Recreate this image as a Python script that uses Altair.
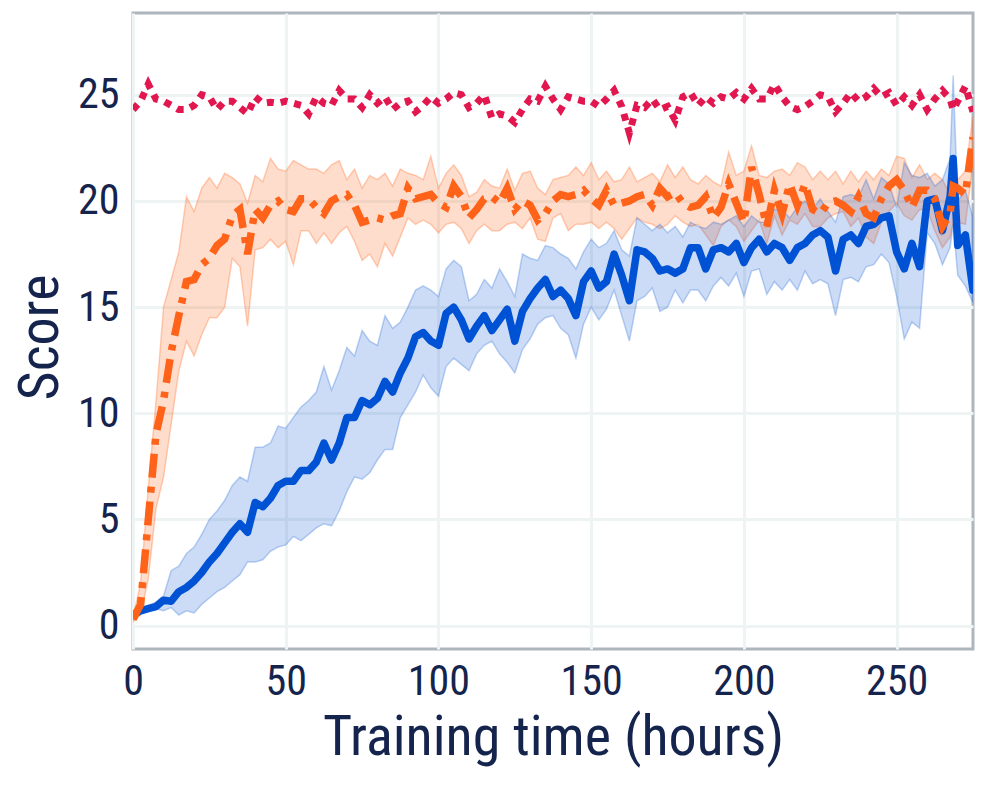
import altair as alt
import pandas as pd

HOURS = [0, 2.5, 5, 7.5, 10, 12.5, 15, 17.5, 20, 22.5,
         25, 27.5, 30, 32.5, 35, 37.5, 40, 42.5, 45, 47.5,
         50, 52.5, 55, 57.5, 60, 62.5, 65, 67.5, 70, 72.5,
         75, 77.5, 80, 82.5, 85, 87.5, 90, 92.5, 95, 97.5,
         100, 102.5, 105, 107.5, 110, 112.5, 115, 117.5, 120, 122.5,
         125, 127.5, 130, 132.5, 135, 137.5, 140, 142.5, 145, 147.5,
         150, 152.5, 155, 157.5, 160, 162.5, 165, 167.5, 170, 172.5,
         175, 177.5, 180, 182.5, 185, 187.5, 190, 192.5, 195, 197.5,
         200, 202.5, 205, 207.5, 210, 212.5, 215, 217.5, 220, 222.5,
         225, 227.5, 230, 232.5, 235, 237.5, 240, 242.5, 245, 247.5,
         250, 252.5, 255, 257.5, 260, 262.5, 265, 267.5, 268.5, 270, 272.5, 275]

ORANGE_MEAN = [0.3, 1.0, 5.0, 9.0, 10.6, 12.9, 14.6, 16.2, 16.3, 17.0,
               17.3, 17.9, 18.2, 19.3, 19.6, 17.5, 19.6, 19.2, 19.8, 20.0,
               19.6, 19.5, 20.1, 20.1, 19.7, 19.4, 20.0, 20.2, 20.3, 19.8,
               19.0, 19.1, 19.2, 19.1, 19.3, 19.4, 20.6, 20.1, 20.2, 20.3,
               19.9, 19.7, 20.7, 20.2, 19.2, 19.6, 20.1, 20.2, 19.9, 20.6,
               19.6, 20.0, 19.8, 19.1, 19.4, 20.0, 20.3, 20.2, 20.3, 20.5,
               20.1, 19.8, 20.5, 19.8, 19.9, 20.0, 20.2, 20.3, 19.8, 20.6,
               20.2, 20.4, 19.9, 19.7, 19.8, 20.2, 19.2, 19.7, 20.8, 19.9,
               19.0, 21.6, 20.3, 18.8, 20.5, 19.4, 20.8, 19.8, 20.8, 19.6,
               19.4, 19.9, 20.0, 19.8, 19.5, 20.2, 19.4, 19.2, 20.1, 20.7,
               21.0, 20.5, 19.7, 20.5, 20.5, 20.1, 18.8, 19.4, 20.7, 20.6, 20.3, 23.0]
ORANGE_LO = [0.2, 0.5, 2.2, 5.5, 7.0, 9.5, 12.0, 13.4, 12.7, 13.7,
             14.5, 14.5, 15.0, 17.3, 16.9, 14.1, 17.7, 17.8, 18.2, 17.8,
             18.1, 17.0, 18.6, 18.6, 18.0, 18.5, 18.0, 18.5, 18.8, 18.1,
             17.2, 17.5, 16.9, 18.0, 17.4, 18.3, 19.2, 18.9, 19.1, 18.9,
             18.5, 18.9, 19.0, 18.7, 18.0, 18.6, 18.9, 18.6, 18.6, 18.9,
             19.0, 18.7, 19.2, 18.2, 18.1, 19.2, 19.4, 18.6, 18.9, 18.9,
             19.0, 18.7, 19.0, 18.7, 18.2, 18.7, 19.2, 19.0, 18.9, 18.7,
             18.9, 19.3, 19.0, 18.8, 18.9, 18.4, 17.9, 18.8, 19.1, 18.8,
             18.1, 18.6, 19.1, 18.0, 19.3, 18.4, 19.1, 18.9, 19.4, 18.8,
             18.8, 19.2, 19.4, 19.5, 18.8, 19.2, 18.3, 18.0, 19.0, 19.5,
             19.9, 19.3, 19.1, 19.6, 19.6, 18.6, 17.8, 18.3, 19.0, 19.0, 18.9, 21.8]
ORANGE_HI = [0.4, 2.0, 6.5, 10.5, 15.0, 16.3, 17.6, 20.2, 19.5, 20.6,
             21.1, 20.6, 21.3, 21.1, 20.8, 19.9, 21.2, 20.9, 22.0, 21.5,
             21.4, 21.9, 21.7, 21.5, 21.5, 21.3, 21.7, 21.9, 21.0, 21.5,
             20.6, 21.2, 21.0, 21.3, 20.7, 21.5, 21.3, 21.2, 21.0, 22.1,
             20.6, 21.3, 21.7, 21.2, 20.2, 20.4, 21.0, 20.7, 20.6, 21.5,
             20.5, 21.3, 21.4, 20.6, 20.3, 21.0, 21.1, 21.2, 21.6, 21.2,
             21.8, 21.0, 21.4, 20.9, 21.0, 21.6, 20.9, 21.1, 21.3, 20.9,
             21.7, 21.1, 21.6, 21.0, 20.8, 21.2, 20.9, 20.7, 22.3, 21.2,
             21.4, 22.6, 21.2, 21.1, 21.4, 21.5, 21.2, 21.8, 21.6, 21.0,
             21.4, 21.0, 21.4, 20.8, 21.4, 20.9, 21.4, 21.0, 21.5, 21.2,
             22.1, 22.0, 21.1, 21.7, 21.0, 21.3, 21.0, 20.3, 20.9, 21.0, 21.4, 24.0]

BLUE_MEAN = [0.5, 0.7, 0.8, 0.9, 1.2, 1.15, 1.6, 1.8, 2.1, 2.5,
             3.0, 3.4, 3.9, 4.4, 4.8, 4.4, 5.8, 5.6, 6.0, 6.6,
             6.8, 6.8, 7.3, 7.3, 7.7, 8.6, 7.8, 8.6, 9.8, 9.8,
             10.6, 10.4, 10.7, 11.5, 11.0, 11.9, 12.6, 13.6, 13.8, 13.4,
             13.2, 14.7, 15.0, 14.4, 13.5, 14.1, 14.6, 13.9, 14.4, 14.9,
             13.4, 14.8, 15.4, 15.9, 16.3, 15.5, 15.8, 15.4, 14.6, 16.2,
             16.7, 15.9, 16.2, 17.5, 16.5, 15.3, 17.7, 17.6, 17.3, 16.7,
             16.8, 16.6, 16.8, 17.8, 17.8, 16.8, 17.7, 17.8, 17.6, 18.0,
             17.1, 17.8, 18.2, 17.6, 18.0, 17.8, 17.2, 17.8, 18.0, 18.4,
             18.6, 18.3, 16.7, 18.2, 18.4, 18.0, 18.8, 18.9, 19.2, 19.3,
             17.6, 16.8, 18.0, 16.9, 20.0, 20.1, 18.6, 20.2, 22.0, 17.9, 18.4, 15.8]
BLUE_LO = [0.4, 0.6, 0.7, 0.8, 0.7, 0.85, 0.5, 0.7, 0.6, 1.0,
           1.3, 1.6, 1.8, 2.1, 2.4, 3.0, 3.0, 3.1, 3.5, 3.7,
           3.8, 4.2, 4.0, 4.3, 4.6, 4.8, 4.7, 5.4, 6.3, 7.0,
           6.9, 7.2, 7.8, 8.3, 8.3, 9.8, 10.4, 11.0, 11.8, 11.2,
           10.8, 12.2, 12.6, 12.3, 12.0, 12.8, 13.2, 13.4, 12.8, 12.4,
           11.9, 13.0, 13.5, 14.2, 14.5, 14.6, 14.0, 13.7, 12.6, 14.2,
           15.0, 14.4, 14.9, 15.8, 14.6, 13.4, 15.3, 15.5, 15.9, 14.8,
           15.0, 15.8, 15.2, 15.8, 15.8, 15.3, 16.0, 16.4, 16.0, 16.6,
           15.5, 16.7, 16.8, 15.6, 16.2, 15.8, 16.3, 15.8, 16.7, 16.1,
           16.3, 16.1, 14.6, 16.3, 16.4, 16.2, 16.9, 17.0, 17.5, 17.1,
           15.5, 13.5, 14.3, 14.0, 18.5, 18.0, 17.0, 17.8, 18.9, 16.5, 16.0, 15.2]
BLUE_HI = [0.6, 0.8, 0.95, 1.1, 1.4, 2.6, 2.8, 3.4, 3.7, 4.3,
           5.0, 5.4, 5.9, 6.6, 7.0, 6.8, 8.4, 8.4, 8.6, 9.4,
           9.3, 9.8, 10.3, 10.6, 11.0, 12.2, 11.1, 12.0, 13.1, 12.7,
           13.9, 13.4, 13.2, 14.6, 14.0, 14.3, 15.0, 15.8, 16.0, 15.8,
           15.5, 16.8, 17.2, 16.9, 15.3, 15.6, 16.3, 15.9, 16.8, 16.2,
           15.5, 17.5, 17.3, 17.2, 17.9, 17.8, 17.5, 17.3, 16.8, 17.6,
           18.2, 17.8, 18.0, 18.6, 17.7, 17.4, 19.2, 18.9, 18.6, 18.9,
           18.5, 18.8, 18.3, 19.0, 18.8, 18.7, 19.0, 18.9, 19.1, 19.3,
           18.8, 19.3, 19.0, 19.0, 19.6, 19.6, 19.2, 19.7, 20.0, 19.6,
           20.1, 19.5, 19.0, 20.2, 20.3, 20.2, 21.0, 20.1, 21.1, 20.8,
           19.7, 21.8, 21.2, 21.1, 21.3, 20.7, 21.0, 22.0, 25.9, 20.0, 20.5, 19.2]

RED_MEAN = [24.3, 24.7, 25.5, 24.8, 24.7, 24.5, 24.3, 24.3, 24.5, 25.0,
            24.9, 24.3, 24.7, 24.7, 24.4, 24.1, 24.9, 24.6, 24.65, 24.6,
            24.7, 24.6, 24.5, 24.1, 24.9, 24.6, 24.5, 25.2, 24.8, 24.8,
            24.4, 25.0, 24.6, 24.9, 24.3, 24.6, 24.7, 24.2, 24.5, 24.9,
            24.6, 24.8, 25.1, 25.0, 24.4, 24.6, 25.0, 23.9, 24.1, 24.0,
            23.7, 24.3, 24.8, 24.7, 25.4, 24.8, 24.3, 24.9, 24.8, 24.7,
            24.7, 24.45, 24.8, 25.2, 24.45, 23.2, 24.5, 24.4, 24.8, 24.3,
            24.45, 23.8, 24.9, 25.1, 24.5, 24.9, 24.6, 24.9, 24.8, 25.1,
            24.8, 25.3, 24.8, 24.8, 25.5, 24.9, 24.45, 24.3, 24.45, 24.7,
            25.0, 24.9, 24.2, 24.6, 25.1, 24.7, 24.9, 25.3, 24.9, 25.1,
            24.5, 24.9, 24.5, 25.0, 24.3, 24.8, 25.2, 24.8, 24.3, 24.7, 25.4, 24.2]

X_TICKS = [0, 50, 100, 150, 200, 250]
Y_TICKS = [0, 5, 10, 15, 20, 25]

RED = "#e2174f"
ORANGE = "#ff6219"
BLUE = "#0052d4"
TEXT = "#15244d"
FONT = "Roboto Condensed, Liberation Sans Narrow, Roboto, sans-serif"

df = pd.DataFrame({
    "hours": HOURS,
    "o_mean": ORANGE_MEAN, "o_lo": ORANGE_LO, "o_hi": ORANGE_HI,
    "b_mean": BLUE_MEAN, "b_lo": BLUE_LO, "b_hi": BLUE_HI,
    "r_mean": RED_MEAN,
})

xs = alt.Scale(domain=[0, 275], nice=False, zero=False)
ys = alt.Scale(domain=[-1.1, 28.85], nice=False, zero=False)

x_axis = alt.Axis(values=X_TICKS, title="Training time (hours)", grid=True,
                  gridColor="#eef3f3", gridWidth=3, ticks=False, domain=False,
                  labelFontSize=42, labelColor=TEXT, labelFont=FONT, labelPadding=12,
                  labelFlush=False,
                  titleFontSize=56, titleColor=TEXT, titleFont=FONT,
                  titleFontWeight="normal", titlePadding=8)
y_axis = alt.Axis(values=Y_TICKS, title="Score", grid=True,
                  gridColor="#eef3f3", gridWidth=3, ticks=False, domain=False,
                  labelFontSize=42, labelColor=TEXT, labelFont=FONT, labelPadding=14,
                  labelFlush=False,
                  titleFontSize=56, titleColor=TEXT, titleFont=FONT,
                  titleFontWeight="normal", titlePadding=8, titleY=324)

base = alt.Chart(df)
X = alt.X("hours:Q", scale=xs, axis=x_axis)

band_o = base.mark_area(color=ORANGE, fillOpacity=0.22, stroke=ORANGE,
                        strokeOpacity=0.3, strokeWidth=1.5, clip=True).encode(
    x=X, y=alt.Y("o_lo:Q", scale=ys, axis=y_axis), y2="o_hi:Q")
band_b = base.mark_area(color=BLUE, fillOpacity=0.2, stroke=BLUE,
                        strokeOpacity=0.25, strokeWidth=1.5, clip=True).encode(
    x=X, y=alt.Y("b_lo:Q", scale=ys, axis=y_axis), y2="b_hi:Q")
line_b = base.mark_line(color=BLUE, strokeWidth=7.5, strokeJoin="round",
                        strokeCap="round", clip=True).encode(
    x=X, y=alt.Y("b_mean:Q", scale=ys, axis=y_axis))
line_o = base.mark_line(color=ORANGE, strokeWidth=7.5, strokeDash=[24, 9, 6, 9],
                        clip=True).encode(
    x=X, y=alt.Y("o_mean:Q", scale=ys, axis=y_axis))
line_r = base.mark_line(color=RED, strokeWidth=7, strokeDash=[7, 7],
                        clip=True).encode(
    x=X, y=alt.Y("r_mean:Q", scale=ys, axis=y_axis))

chart = alt.layer(band_o, band_b, line_b, line_o, line_r).properties(
    width=840, height=636,
    padding={"left": 125, "top": 5, "right": 7, "bottom": 129},
    autosize=alt.AutoSizeParams(type="none"),
    background="white",
).configure_view(stroke="#adb5bd", strokeWidth=3)

chart.save("out.html", embed_options={"renderer": "svg", "actions": False})
